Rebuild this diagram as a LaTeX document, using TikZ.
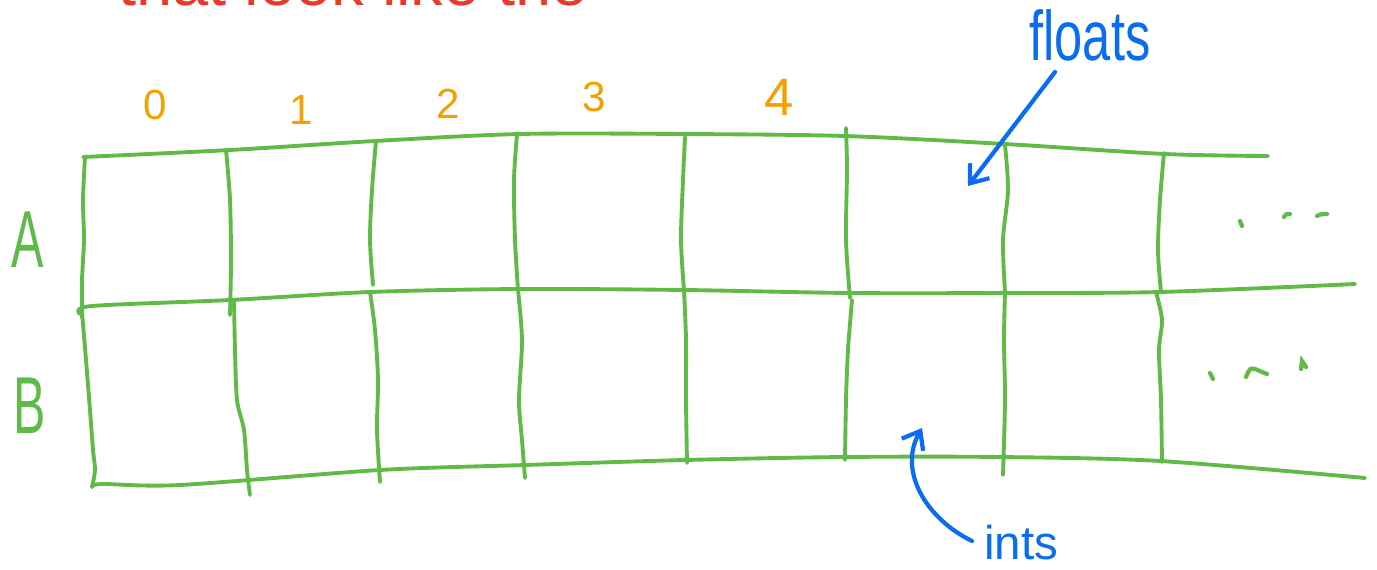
\documentclass[tikz,border=0pt]{standalone}
\usepackage{fontspec}
\setmainfont{Liberation Sans}
\usetikzlibrary{arrows.meta}
\definecolor{gr}{RGB}{96,186,72}
\definecolor{og}{RGB}{245,160,0}
\definecolor{bl}{RGB}{10,108,240}
\definecolor{rd}{RGB}{232,57,43}
\tikzset{
  gridline/.style={draw=gr, line width=2.2pt, line cap=round, line join=round},
  dotline/.style={draw=gr, line width=2.4pt, line cap=round},
  colnum/.style={text=og, font=\fontsize{24}{28}\selectfont, inner sep=0pt},
  rowlbl/.style={text=gr, font=\fontsize{46}{50}\selectfont, inner sep=0pt, xscale=0.6, transform shape},
  note/.style={text=bl, inner sep=0pt},
  pointer/.style={draw=bl, line width=2.4pt, line cap=round, -{Straight Barb[length=9pt,width=14pt,line width=2.4pt]}}
}
\begin{document}
\begin{tikzpicture}[x=0.02cm, y=-0.02cm]
\useasboundingbox (0,0) rectangle (1377,569);
% cut-off title
\node[text=rd, anchor=base west, inner sep=0pt, font=\fontsize{37}{40}\selectfont] (title) at (118,5) {that look like the};
% horizontal lines
\draw[gridline] plot[smooth, tension=0.5] coordinates {(83,157) (230,150) (375,141) (520,134) (685,134) (845,136) (1005,144) (1165,154) (1268,156)};
\draw[gridline] plot[smooth, tension=0.5] coordinates {(80,314) (92,306) (230,300) (370,292) (520,289) (685,290) (850,293) (1005,293) (1160,292) (1355,284)};
\draw[gridline] plot[smooth, tension=0.5] coordinates {(92,487) (102,484) (180,485) (380,470) (525,465) (685,460) (845,457) (1000,457) (1160,461) (1365,478)};
% vertical lines, top row
\draw[gridline] plot[smooth, tension=0.5] coordinates {(85,157) (83,200) (84,240) (82,280) (82,318)};
\draw[gridline] plot[smooth, tension=0.5] coordinates {(226,150) (230,200) (231,260) (230,315)};
\draw[gridline] plot[smooth, tension=0.5] coordinates {(376,141) (372,190) (370,240) (373,285)};
\draw[gridline] plot[smooth, tension=0.5] coordinates {(517,135) (514,180) (515,240) (518,290)};
\draw[gridline] plot[smooth, tension=0.5] coordinates {(685,137) (683,180) (681,240) (684,290)};
\draw[gridline] plot[smooth, tension=0.5] coordinates {(846,128) (847,170) (846,240) (850,298)};
\draw[gridline] plot[smooth, tension=0.5] coordinates {(1005,145) (1008,190) (1003,240) (1005,292)};
\draw[gridline] plot[smooth, tension=0.5] coordinates {(1164,153) (1160,200) (1158,250) (1161,292)};
% vertical lines, bottom row
\draw[gridline] plot[smooth, tension=0.5] coordinates {(82,312) (86,360) (90,410) (93,450) (95,470) (92,487)};
\draw[gridline] plot[smooth, tension=0.5] coordinates {(234,300) (235,350) (237,400) (244,430) (247,470) (250,495)};
\draw[gridline] plot[smooth, tension=0.5] coordinates {(370,292) (375,330) (378,380) (377,430) (380,482)};
\draw[gridline] plot[smooth, tension=0.5] coordinates {(518,290) (522,340) (519,400) (522,440) (525,478)};
\draw[gridline] plot[smooth, tension=0.5] coordinates {(684,290) (686,340) (686,400) (687,463)};
\draw[gridline] plot[smooth, tension=0.5] coordinates {(852,300) (848,350) (846,400) (845,460)};
\draw[gridline] plot[smooth, tension=0.5] coordinates {(1005,292) (1004,340) (1005,400) (1003,475)};
\draw[gridline] plot[smooth, tension=0.5] coordinates {(1156,292) (1162,320) (1159,350) (1161,400) (1162,462)};
% ellipsis strokes
\draw[dotline] (1240,221) -- (1242,226);
\draw[dotline] (1284,217) .. controls (1286,214) .. (1290,214);
\draw[dotline] (1317,216) .. controls (1321,214) .. (1327,214);
\draw[dotline] (1210,373) -- (1213,379);
\draw[dotline] (1246,377) .. controls (1250,368) .. (1255,369) -- (1267,374);
\draw[dotline] (1301,369) -- (1302,361) -- (1306,367);
% column numbers
\node[colnum] (c0) at (155,105) {0};
\node[colnum] (c1) at (301,110) {1};
\node[colnum] (c2) at (448,104) {2};
\node[colnum] (c3) at (594,97) {3};
\node[colnum, font=\fontsize{30}{34}\selectfont] (c4) at (779,97) {4};
% row labels
\node[rowlbl] (ra) at (28,240) {A};
\node[rowlbl] (rb) at (30,406) {B};
% annotations
\node[note, font=\fontsize{40}{44}\selectfont, xscale=0.72, transform shape] (fl) at (1090,35) {floats};
\coordinate (flstart) at (1055,72);
\coordinate (flend) at (968,186);
\draw[pointer] (flstart) -- (flend);
\node[note, font=\fontsize{27}{30}\selectfont] (in) at (1021,543) {ints};
\coordinate (instart) at (972,541);
\coordinate (inend) at (922,428);
\draw[pointer] (instart) .. controls (925,518) and (898,470) .. (inend);
\end{tikzpicture}
\end{document}
